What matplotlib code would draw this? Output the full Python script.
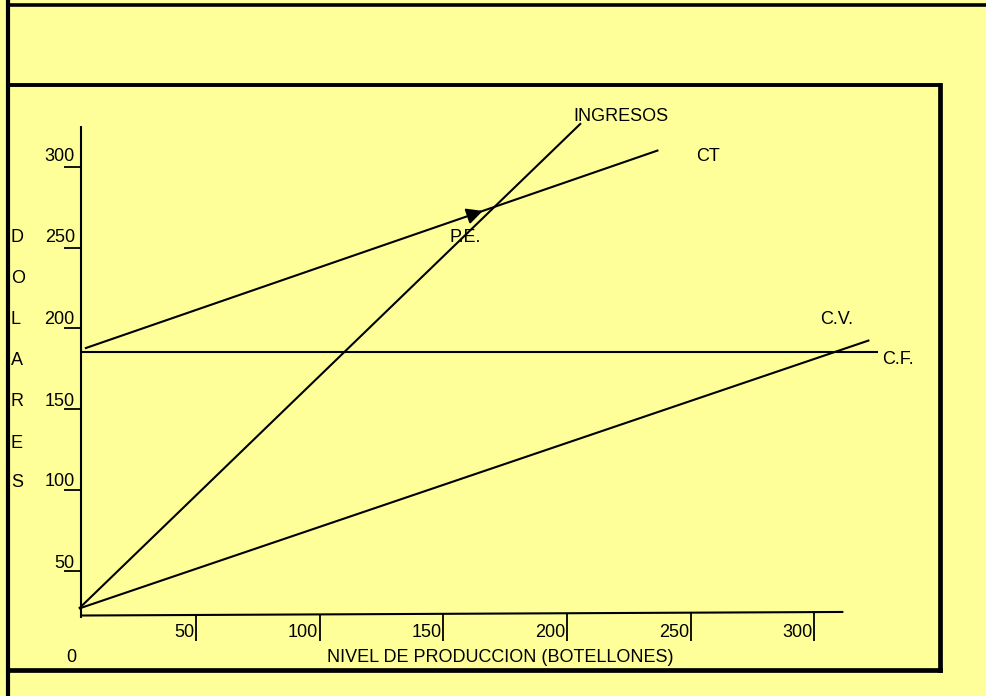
import matplotlib
matplotlib.use("Agg")
import matplotlib.pyplot as plt
from matplotlib.lines import Line2D

plt.rcParams['font.family'] = ['Liberation Sans', 'DejaVu Sans']

# ---- data (units of production vs. dollars) ----
ingresos_x = [2.7, 205.7]
ingresos_y = [26.8, 326.9]

ct_x = [5.1, 237.0]
ct_y = [187.7, 310.2]

cf_x = [3.5, 325.9]
cf_y = [185.3, 185.3]

cv_x = [2.7, 322.3]
cv_y = [26.8, 192.7]

pe_arrow_x = 166.0           # arrow marking the break-even point on CT

axis_y_x = [3.5, 3.5]
axis_y_y = [21.0, 325.4]
axis_x_x = [3.5, 311.8]
axis_x_y = [22.5, 24.7]

x_ticks = [50, 100, 150, 200, 250, 300]
x_tick_labels = ['50', '100', '150', '200', '250', '300']
y_ticks = [50, 100, 150, 200, 250, 300]
y_tick_labels = ['50', '100', '150', '200', '250', '300']
y_label_rows = [52.0, 102.5, 151.9, 202.6, 253.5, 303.7]
y_title_letters = ['D', 'O', 'L', 'A', 'R', 'E', 'S']
y_title_rows = [253.5, 228.0, 202.7, 177.4, 152.0, 126.3, 101.8]

BG = '#FFFF99'
W, H = 986, 696
fig = plt.figure(figsize=(W / 100, H / 100), dpi=100)
fig.patch.set_facecolor(BG)

ax = fig.add_axes([0, 0, 1, 1])
ax.set_facecolor(BG)
# pixel scale of the drawing
PX_X, PX_Y = 2.473, 1.6172
X0, Y0 = 72.3, 651.9
ax.set_xlim(-X0 / PX_X, (W - X0) / PX_X)
ax.set_ylim((Y0 - H) / PX_Y, Y0 / PX_Y)
ax.axis('off')

LW = 1.5
FS = 13
k = dict(color='black', lw=LW, solid_capstyle='butt')
kt = dict(color='black', lw=1.3, solid_capstyle='butt')

# axes of the diagram
ax.plot(axis_y_x, axis_y_y, **k)
ax.plot(axis_x_x, axis_x_y, **k)

# y ticks: short underline left of the axis, label right-aligned above it
for v, lab, row in zip(y_ticks, y_tick_labels, y_label_rows):
    ax.plot([axis_y_x[0] - 6.9, axis_y_x[0]], [v, v], **kt)
    ax.text(axis_y_x[0] - 2.5, row, lab, ha='right', va='baseline', fontsize=FS)

# x ticks: vertical stroke below the axis, label to its left
for v, lab in zip(x_ticks, x_tick_labels):
    base = axis_x_y[0] + (axis_x_y[1] - axis_x_y[0]) * (v - axis_x_x[0]) / (axis_x_x[1] - axis_x_x[0])
    ax.plot([v, v], [base, 7.0], **kt)
    ax.text(v - 0.7, 9.2, lab, ha='right', va='baseline', fontsize=FS)

ax.text(-2.5, -6.1, '0', ha='left', va='baseline', fontsize=FS)
ax.text(102.9, -6.2, 'NIVEL DE PRODUCCION (BOTELLONES)', ha='left', va='baseline', fontsize=FS)

for letter, row in zip(y_title_letters, y_title_rows):
    ax.text(-24.8, row, letter, ha='left', va='baseline', fontsize=FS)

# cost / revenue lines
ax.plot(ingresos_x, ingresos_y, **k)
ax.plot(ct_x, ct_y, **k)
ax.plot(cf_x, cf_y, **k)
ax.plot(cv_x, cv_y, **k)

slope_ct = (ct_y[1] - ct_y[0]) / (ct_x[1] - ct_x[0])
tip_y = ct_y[0] + slope_ct * (pe_arrow_x - ct_x[0])
ax.annotate('', xy=(pe_arrow_x, tip_y),
            xytext=(pe_arrow_x - 5, tip_y - 5 * slope_ct),
            arrowprops=dict(arrowstyle='-|>,head_length=0.8,head_width=0.4',
                            color='black', lw=LW, shrinkA=0, shrinkB=0,
                            mutation_scale=12))

ax.text(202.6, 328.5, 'INGRESOS', ha='left', va='baseline', fontsize=FS)
ax.text(252.2, 303.3, 'CT', ha='left', va='baseline', fontsize=FS)
ax.text(152.7, 253.7, 'P.E.', ha='left', va='baseline', fontsize=FS)
ax.text(302.3, 202.8, 'C.V.', ha='left', va='baseline', fontsize=FS)
ax.text(327.3, 178.0, 'C.F.', ha='left', va='baseline', fontsize=FS)

# frame of the sheet
def frame(x0, y0, x1, y1, lw):
    fig.add_artist(Line2D([x0 / W, x1 / W], [1 - y0 / H, 1 - y1 / H],
                          transform=fig.transFigure, color='black', lw=lw,
                          solid_capstyle='projecting'))

frame(8, 0, 8, H, 3.0)          # left edge
frame(8, 4.5, W, 4.5, 2.6)      # outer top
frame(8, 84.5, 939.5, 84.5, 2.8)  # inner top
frame(939.5, 84.5, 939.5, 669.5, 3.4)  # inner right
frame(8, 669.5, 939.5, 669.5, 3.4)  # inner bottom

fig.savefig('out.png', dpi=100, facecolor=BG)
